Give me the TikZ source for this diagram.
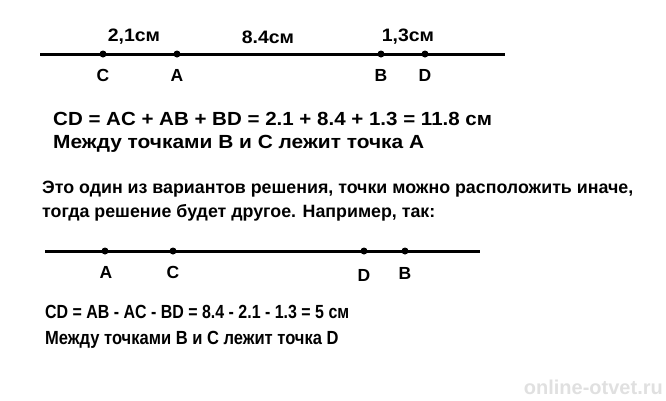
\documentclass[tikz,border=0pt]{standalone}
\usepackage{fontspec}
\setmainfont{Liberation Sans}
\usepackage{graphicx}
\usetikzlibrary{positioning}

\begin{document}
\begin{tikzpicture}[x=1pt,y=-1pt,
    pointDot/.style={circle, fill=black, inner sep=0pt, minimum size=7pt},
    pointLabel/.style={font=\fontsize{17.5}{19}\selectfont\bfseries, inner sep=0pt},
    lengthLabel/.style={font=\fontsize{18}{20}\selectfont\bfseries, inner sep=0pt},
    answerText/.style={font=\fontsize{19}{21}\selectfont\bfseries, inner sep=0pt, anchor=west},
    noteText/.style={font=\fontsize{17.8}{19}\selectfont\bfseries, inner sep=0pt, anchor=west},
    axisLine/.style={line width=3pt}]
\useasboundingbox (0,0) rectangle (666,400);
% first arrangement
\coordinate (lineOneStart) at (40,54);
\coordinate (lineOneEnd) at (505,54);
\draw[axisLine] (lineOneStart) -- (lineOneEnd);
\node[pointDot] (c1) at (103,54) {};
\node[pointDot] (a1) at (177,54) {};
\node[pointDot] (b1) at (381,54) {};
\node[pointDot] (d1) at (425,54) {};
\node[pointLabel] (c1label) at (103,75) {C};
\node[pointLabel] (a1label) at (177,75) {A};
\node[pointLabel] (b1label) at (381,75) {B};
\node[pointLabel] (d1label) at (425,75) {D};
\node[lengthLabel] (ca1) at (134,37) {\scalebox{1.08}[1]{2,1см}};
\node[lengthLabel] (ab1) at (268,37) {\scalebox{1.08}[1]{8.4см}};
\node[lengthLabel] (bd1) at (408,37) {\scalebox{1.08}[1]{1,3см}};
\node[answerText] (sum1) at (53,119) {\scalebox{1.08}[1]{CD = AC + AB + BD = 2.1 + 8.4 + 1.3 = 11.8 см}};
\node[answerText] (between1) at (53,144) {\scalebox{1.1}[1]{Между точками В и С лежит точка А}};
% remark
\node[noteText] (note1) at (42,189) {Это один из вариантов решения, точки можно расположить иначе,};
\node[noteText] (note2) at (42,213) {тогда решение будет другое. Например, так:};
% second arrangement
\coordinate (lineTwoStart) at (45,251);
\coordinate (lineTwoEnd) at (480,251);
\draw[axisLine] (lineTwoStart) -- (lineTwoEnd);
\node[pointDot] (a2) at (105,251) {};
\node[pointDot] (c2) at (173,251) {};
\node[pointDot] (d2) at (364,251) {};
\node[pointDot] (b2) at (405,251) {};
\node[pointLabel] (a2label) at (106,272) {A};
\node[pointLabel] (c2label) at (173,272) {C};
\node[pointLabel] (d2label) at (364,275) {D};
\node[pointLabel] (b2label) at (405,273) {B};
\node[answerText] (sum2) at (45,312) {\scalebox{0.84}[1]{CD = AB - AC - BD = 8.4 - 2.1 - 1.3 = 5 см}};
\node[answerText] (between2) at (45,340) {\scalebox{0.87}[1]{Между точками В и С лежит точка D}};
\node[font=\fontsize{20}{22}\selectfont\bfseries, text=black!12, inner sep=0pt, anchor=east] (site) at (663,387) {online-otvet.ru};
\end{tikzpicture}
\end{document}
